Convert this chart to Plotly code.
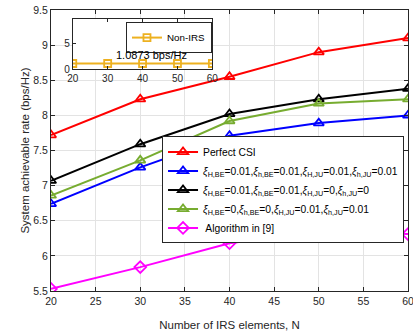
import plotly.graph_objects as go

N = [20, 30, 40, 50, 60]
perfect_csi = [7.72, 8.23, 8.55, 8.90, 9.10]
err_all = [6.74, 7.26, 7.71, 7.89, 8.00]
err_be = [7.07, 7.59, 8.02, 8.23, 8.38]
err_ju = [6.86, 7.36, 7.92, 8.17, 8.23]
alg9 = [5.53, 5.84, 6.18, 6.35, 6.31]
non_irs = [1.0873, 1.0873, 1.0873, 1.0873, 1.0873]

names = [
    "Perfect CSI",
    "<i>ξ</i><sub>H,BE</sub>=0.01,<i>ξ</i><sub>h,BE</sub>=0.01,<i>ξ</i><sub>H,JU</sub>=0.01,<i>ξ</i><sub>h,JU</sub>=0.01",
    "<i>ξ</i><sub>H,BE</sub>=0.01,<i>ξ</i><sub>h,BE</sub>=0.01,<i>ξ</i><sub>H,JU</sub>=0,<i>ξ</i><sub>h,JU</sub>=0",
    "<i>ξ</i><sub>H,BE</sub>=0,<i>ξ</i><sub>h,BE</sub>=0,<i>ξ</i><sub>H,JU</sub>=0.01,<i>ξ</i><sub>h,JU</sub>=0.01",
    " Algorithm in [9]",
]
series = [perfect_csi, err_all, err_be, err_ju, alg9]
colors = ["#FF0000", "#0000FF", "#000000", "#77AC30", "#FF00FF"]
symbols = ["triangle-up-open"] * 4 + ["diamond-open"]

fig = go.Figure()
for name, ys, c, s in zip(names, series, colors, symbols):
    fig.add_trace(go.Scatter(
        x=N, y=ys, name=name, mode="lines+markers",
        line=dict(color=c, width=2),
        marker=dict(symbol=s, size=9, color=c, line=dict(color=c, width=1.8)),
        xaxis="x", yaxis="y", legend="legend",
    ))

fig.add_trace(go.Scatter(
    x=N, y=non_irs, name="Non-IRS", mode="lines+markers",
    line=dict(color="#EDB120", width=2),
    marker=dict(symbol="square-open", size=7, color="#EDB120", line=dict(color="#EDB120", width=1.8)),
    xaxis="x2", yaxis="y2", legend="legend2",
))

axcol = "#262626"
fig.update_layout(
    width=413, height=331,
    margin=dict(l=51, r=5, t=10, b=40),
    paper_bgcolor="white", plot_bgcolor="white",
    font=dict(family="Liberation Sans, Arial, sans-serif", size=10, color=axcol),
    xaxis=dict(
        domain=[0, 1], range=[20, 60], tickvals=[20, 25, 30, 35, 40, 45, 50, 55, 60],
        showgrid=True, gridcolor="#E3E3E3", gridwidth=1,
        showline=True, linecolor=axcol, linewidth=1, mirror="ticks",
        ticks="inside", ticklen=4, tickcolor=axcol, zeroline=False, automargin=False,
        title=dict(text="Number of IRS elements, N", font=dict(size=11.5)),
        tickfont=dict(size=10.5), ticklabeloverflow="allow",
    ),
    yaxis=dict(
        domain=[0, 1], range=[5.5, 9.5], tickvals=[5.5, 6, 6.5, 7, 7.5, 8, 8.5, 9, 9.5],
        showgrid=True, gridcolor="#E3E3E3", gridwidth=1,
        showline=True, linecolor=axcol, linewidth=1, mirror="ticks",
        ticks="inside", ticklen=4, tickcolor=axcol, zeroline=False, automargin=True,
        title=dict(text="System achievable rate (bps/Hz)", font=dict(size=11.5), standoff=1),
        tickfont=dict(size=10.5),
    ),
    xaxis2=dict(
        domain=[0.061, 0.452], anchor="y2", range=[20, 60], tickvals=[20, 30, 40, 50, 60],
        showgrid=False, showline=True, linecolor=axcol, linewidth=1, mirror="ticks",
        ticks="inside", ticklen=3, tickcolor=axcol, zeroline=False, automargin=False,
        tickfont=dict(size=10),
    ),
    yaxis2=dict(
        domain=[0.790, 0.967], anchor="x2", range=[0, 9.8], tickvals=[0, 5],
        showgrid=False, showline=True, linecolor=axcol, linewidth=1, mirror="ticks",
        ticks="inside", ticklen=3, tickcolor=axcol, zeroline=False, automargin=False,
        tickfont=dict(size=10),
    ),
    legend=dict(
        x=0.311, y=0.55, xanchor="left", yanchor="top",
        bgcolor="white", bordercolor=axcol, borderwidth=1,
        font=dict(size=10.3, color="#000000"), itemwidth=30, tracegroupgap=0,
    ),
    legend2=dict(
        x=0.21, y=0.957, xanchor="left", yanchor="top",
        bgcolor="white", bordercolor=axcol, borderwidth=1,
        font=dict(size=9.8, color="#000000"), itemwidth=30,
    ),
    showlegend=True,
)

fig.add_shape(type="rect", xref="x2", yref="y2", x0=20, x1=60, y0=0, y1=9.8,
              fillcolor="white", line=dict(width=0), layer="between")

fig.add_annotation(x=42.7, y=2.8, xref="x2", yref="y2", text="1.0873 bps/Hz",
                   showarrow=False, font=dict(size=11, color="#000000"))

fig.write_html("out.html", config={"displayModeBar": False},
               post_script="document.body.style.margin='0';document.body.style.padding='0';")
